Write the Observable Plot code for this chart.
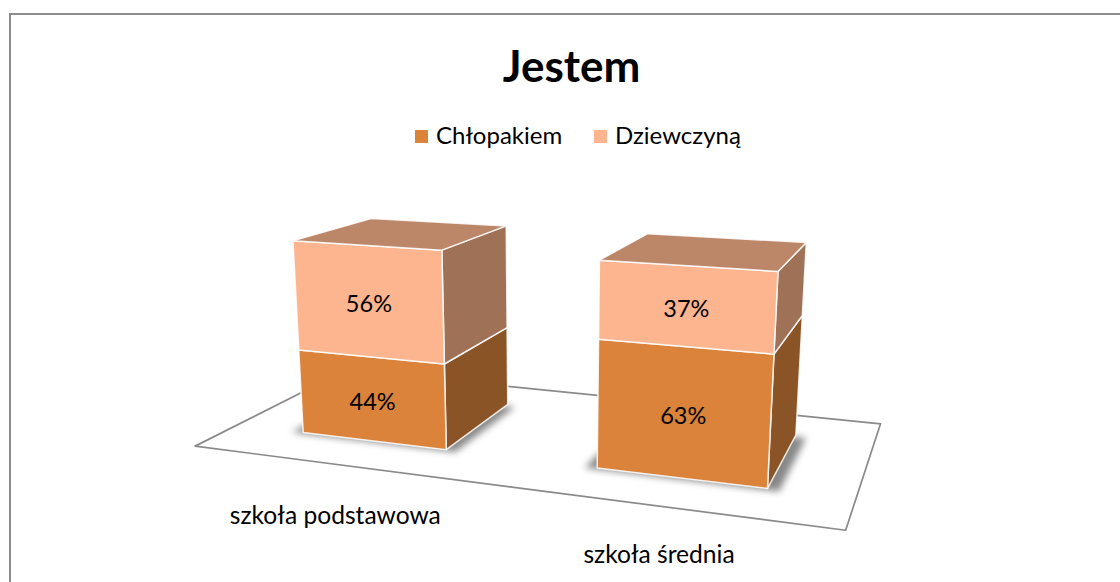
<!DOCTYPE html>
<html><head><meta charset="utf-8">
<script src="https://cdn.jsdelivr.net/npm/d3@7"></script>
<script src="https://cdn.jsdelivr.net/npm/@observablehq/plot@0.6"></script>
<style>
html,body{margin:0;padding:0;background:#fff;overflow:hidden}
#wrap{position:relative;width:1120px;height:582px;font-family:Lato,sans-serif;color:#000}
#wrap h1{position:absolute;left:0;width:1143px;top:39px;margin:0;text-align:center;font:700 44px/52px Lato,sans-serif}
.lg{position:absolute;top:120px;font:400 24px/30px Lato,sans-serif;white-space:nowrap}
.sw{position:absolute;top:130px;width:13px;height:13px}
#border{position:absolute;left:9px;top:13px;width:1111px;height:569px;border-left:2px solid #8c8c8c;border-top:2px solid #8c8c8c;box-sizing:border-box;}
</style></head><body>
<div id="wrap"><div id="border"></div><div id="chart"></div>
<h1>Jestem</h1>
<div id="legend"></div></div>
<script>
const categories = ["szkoła podstawowa", "szkoła średnia"];
const series = ["Chłopakiem", "Dziewczyną"];
const chlopakiem = [44, 63];
const dziewczyna = [56, 37];
const frontColors = ["#DB823B", "#FCB58F"];
const sideColors = ["#8A5426", "#9F7258"];
const topColor = "#BC8669";

// Camera: projective map from (category position, percent, depth) to the page
const camera = [253.9896, -0.2273743, 230.2090, 194.6366, -2.613695, -2.083508, 8.338725, 445.6226, -0.08432229, -0.0004153102, 0.2286175];
const project = (X, Y, Z) => {
  const p = camera, w = p[8]*X + p[9]*Y + p[10]*Z + 1;
  return [(p[0]*X + p[1]*Y + p[2]*Z + p[3]) / w, (p[4]*X + p[5]*Y + p[6]*Z + p[7]) / w];
};
const gap = 0.246, zFront = 0.244, zBack = 0.778;

const faces = [];
const addFace = (id, fill, corners) => corners.forEach(([X, Y, Z]) => {
  const [px, py] = project(X, Y, Z);
  faces.push({id, fill, px, py});
});
const labels = [];
categories.forEach((c, i) => {
  const a = i + gap, b = i + 1 - gap;
  let base = 0;
  [chlopakiem[i], dziewczyna[i]].forEach((v, s) => {
    const t = base + v;
    addFace(`${i}-${s}-side`, sideColors[s], [[b, base, zFront], [b, base, zBack], [b, t, zBack], [b, t, zFront]]);
    addFace(`${i}-${s}-front`, frontColors[s], [[a, base, zFront], [b, base, zFront], [b, t, zFront], [a, t, zFront]]);
    const [lx, ly] = project((a + b) / 2, base + v / 2, zFront);
    labels.push({lx, ly, text: v + "%"});
    base = t;
  });
  addFace(`${i}-top`, topColor, [[a, base, zFront], [b, base, zFront], [b, base, zBack], [a, base, zBack]]);
});

const toXY = (pts) => pts.map(([X, Y, Z]) => { const [px, py] = project(X, Y, Z); return {px, py}; });
const floor = toXY([[0, 0, 0], [2, 0, 0], [2, 0, 1], [0, 0, 1]]);
const shadows = [];
categories.forEach((c, i) => {
  toXY([[i + gap - 0.035, 0, zFront - 0.012], [i + 1 - gap + 0.035, 0, zFront - 0.012], [i + 1 - gap + 0.035, 0, zBack - 0.02], [i + gap - 0.035, 0, zBack - 0.02]])
    .forEach(d => shadows.push({...d, id: i}));
});
const catLabels = categories.map((text, i) => {
  const [lx, ly] = project(i + 0.702 - i * 0.118, 0, -0.377 + i * 0.046);
  return {lx, ly, text};
});

const chart = Plot.plot({
  width: 1120, height: 582, margin: 0,
  x: {domain: [0, 1120], range: [0, 1120], axis: null},
  y: {domain: [0, 582], range: [0, 582], axis: null},
  color: {type: "identity"},
  marks: [
    Plot.line(floor, {x: "px", y: "py", curve: "linear-closed", stroke: "#8a8a8a", strokeWidth: 1.7, fill: "none"}),
    Plot.line(shadows, {x: "px", y: "py", z: "id", curve: "linear-closed", stroke: "none", fill: "#555", fillOpacity: 0.7, imageFilter: "blur(3.5px)"}),
    Plot.line(faces, {x: "px", y: "py", z: "id", curve: "linear-closed", fill: "fill", stroke: "#fff", strokeOpacity: 0.85, strokeWidth: 1.5, strokeLinejoin: "round"}),
    Plot.text(labels, {x: "lx", y: "ly", dx: 1, dy: 3, text: "text", fontSize: 23.5, fill: "#000", fontFamily: "Lato, sans-serif"}),
    Plot.text(catLabels, {x: "lx", y: "ly", text: "text", fontSize: 24.6, fill: "#000", fontFamily: "Lato, sans-serif"})
  ]
});
chart.style.position = "absolute"; chart.style.left = "0"; chart.style.top = "0"; chart.style.background = "transparent";
document.getElementById("chart").appendChild(chart);

const legendPos = [[415, 436], [594, 615]];
const lg = document.getElementById("legend");
series.forEach((s, i) => {
  const sw = document.createElement("div"); sw.className = "sw"; sw.style.left = legendPos[i][0] + "px"; sw.style.background = frontColors[i]; lg.appendChild(sw);
  const t = document.createElement("div"); t.className = "lg"; t.style.left = legendPos[i][1] + "px"; t.textContent = s; lg.appendChild(t);
});
</script></body></html>
